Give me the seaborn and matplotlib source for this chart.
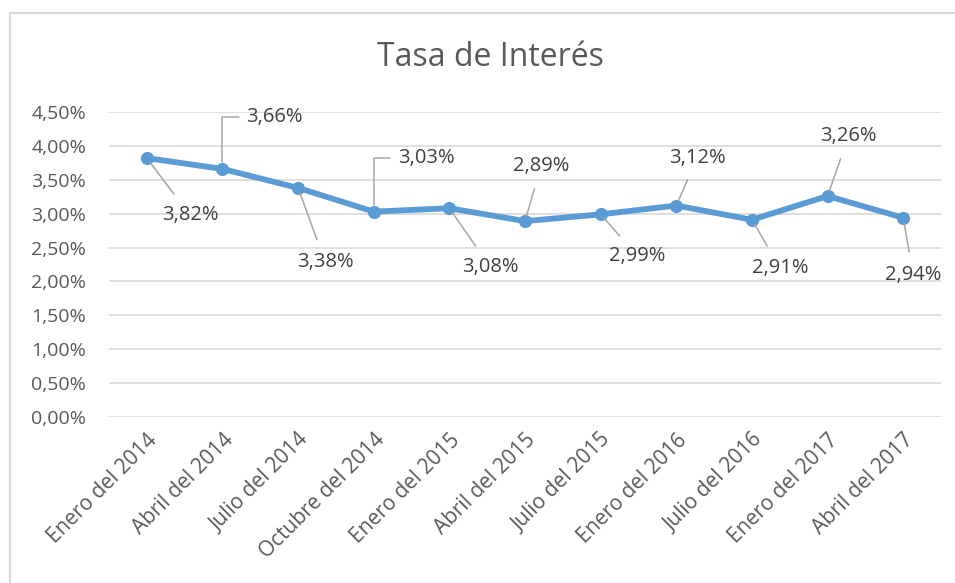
import matplotlib
matplotlib.use("Agg")
import matplotlib.pyplot as plt
import matplotlib.lines as mlines
import seaborn as sns
import pandas as pd

# Data
periodos = ["Enero del 2014", "Abril del 2014", "Julio del 2014", "Octubre del 2014",
            "Enero del 2015", "Abril del 2015", "Julio del 2015", "Enero del 2016",
            "Julio del 2016", "Enero del 2017", "Abril del 2017"]
tasa = [3.82, 3.66, 3.38, 3.03, 3.08, 2.89, 2.99, 3.12, 2.91, 3.26, 2.94]
y_ticks = [0.0, 0.5, 1.0, 1.5, 2.0, 2.5, 3.0, 3.5, 4.0, 4.5]

df = pd.DataFrame({"periodo": periodos, "tasa": tasa})

# label offsets (pixels) and whether leader is an elbow
label_off = [(43, -57), (24, 52), (27, -74), (24, 54), (41, -59), (16, 55),
             (37, -42), (21, 48), (28, -48), (21, 60), (10, -57)]
elbow = [False, True, False, True, False, False, False, False, False, False, False]

sns.set_theme(style="white")
plt.rcParams["font.family"] = ["Open Sans", "DejaVu Sans"]

fig = plt.figure(figsize=(9.55, 5.83), dpi=100)
ax = fig.add_axes([109 / 955, 1 - 417 / 583, (941 - 109) / 955, (417 - 112) / 583])

sns.lineplot(data=df, x="periodo", y="tasa", ax=ax, color="#5B9BD5", lw=4.2,
             marker="o", markersize=9.5, markeredgewidth=0, sort=False)

ax.set_xlim(-0.5, len(periodos) - 0.5)
ax.set_ylim(0, 4.5)
ax.set_yticks(y_ticks)
ax.set_yticklabels([f"{v:.2f}%".replace(".", ",") for v in y_ticks])
ax.set_xticks(range(len(periodos)))
ax.set_xticklabels(periodos, rotation=45, ha="right", rotation_mode="anchor")
ax.tick_params(axis="both", length=0, labelcolor="#595959")
ax.tick_params(axis="y", pad=16.5, labelsize=14)
ax.tick_params(axis="x", pad=9, labelsize=15)
ax.set_xlabel(""); ax.set_ylabel("")
for v in y_ticks:
    ax.axhline(v, color="#D9D9D9", lw=1.2, zorder=0)
for s in ax.spines.values():
    s.set_visible(False)

for i, (v, (dx, dy)) in enumerate(zip(tasa, label_off)):
    txt = f"{v:.2f}%".replace(".", ",")
    if elbow[i]:
        ax.annotate(txt, xy=(i, v), xytext=(dx, dy), textcoords="offset pixels",
                    ha="left", va="center", fontsize=14.5, color="#404040",
                    arrowprops=dict(arrowstyle="-", color="#A6A6A6", lw=1.1,
                                    connectionstyle="angle,angleA=0,angleB=90,rad=0",
                                    shrinkA=3, shrinkB=5))
    else:
        ax.annotate(txt, xy=(i, v), xytext=(dx, dy), textcoords="offset pixels",
                    ha="center", va="center", fontsize=14.5, color="#404040",
                    arrowprops=dict(arrowstyle="-", color="#A6A6A6", lw=1.1,
                                    shrinkA=7, shrinkB=4))

fig.text(490 / 955, 1 - 57 / 583, "Tasa de Interés", ha="center", va="center",
         fontsize=23, color="#595959")

# chart frame
fig.add_artist(mlines.Line2D([10 / 955, 1], [1 - 13 / 583] * 2, color="#D9D9D9", lw=1.5))
fig.add_artist(mlines.Line2D([10 / 955] * 2, [0, 1 - 13 / 583], color="#D9D9D9", lw=1.5))

fig.savefig("out.png", dpi=100)
